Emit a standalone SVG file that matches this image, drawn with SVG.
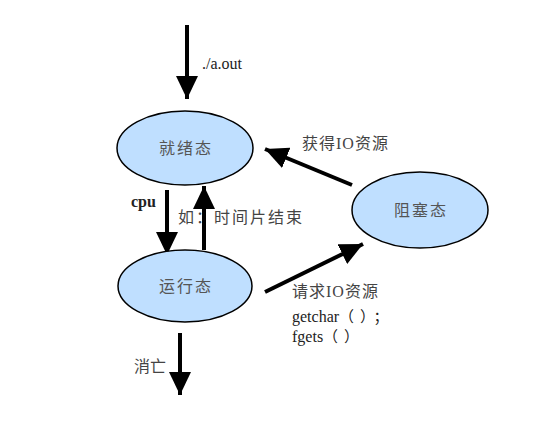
<svg xmlns="http://www.w3.org/2000/svg" width="536" height="426" viewBox="0 0 536 426">
<style>
.node ellipse{fill:#bfdfff;stroke:#000;stroke-width:1.5}
.nl{font-family:"Liberation Serif","Noto Sans CJK SC",serif;font-size:16px;fill:#555;text-anchor:middle;letter-spacing:2px}
.lbl{font-family:"Liberation Serif","Noto Sans CJK SC",serif;font-size:16px;fill:#444}
.lat{font-family:"Liberation Serif","Noto Sans CJK SC",serif;font-size:16px;fill:#222}
.cjk{font-family:"Noto Sans CJK SC",sans-serif;font-size:15px;letter-spacing:6px}
.conn line{stroke:#000;stroke-width:4}
</style>
<defs>
<marker id="ah" markerUnits="userSpaceOnUse" markerWidth="24" markerHeight="22" refX="23" refY="11" orient="auto">
<path d="M0,0 L23,11 L0,22 Z" fill="#000"/>
</marker>
</defs>
<rect width="536" height="426" fill="#fff"/>
<g id="connectors" class="conn">
<line x1="187" y1="25" x2="187" y2="99" marker-end="url(#ah)"/>
<line x1="167" y1="190" x2="167" y2="255" marker-end="url(#ah)"/>
<line x1="204" y1="250" x2="204" y2="186" marker-end="url(#ah)"/>
<line x1="180" y1="333" x2="180" y2="395" marker-end="url(#ah)"/>
<line x1="352" y1="185" x2="265" y2="149" marker-end="url(#ah)"/>
<line x1="265" y1="292" x2="363" y2="244" marker-end="url(#ah)"/>
</g>
<g id="ready" class="node"><ellipse cx="185" cy="148" rx="68" ry="37"/><text class="nl" x="186" y="154">就绪态</text></g>
<g id="running" class="node"><ellipse cx="185" cy="286" rx="67" ry="36"/><text class="nl" x="186" y="292">运行态</text></g>
<g id="blocked" class="node"><ellipse cx="420" cy="210" rx="68" ry="38"/><text class="nl" x="421" y="216">阻塞态</text></g>
<g id="labels">
<text class="lat" x="202" y="69" fill="#333">./a.out</text>
<text class="lat" x="131" y="207" font-weight="bold">cpu</text>
<text class="lbl" x="178" y="223" letter-spacing="2">如：时间片结束</text>
<text class="lbl" x="302" y="149" letter-spacing="1">获得IO资源</text>
<text class="lbl" x="292" y="297" letter-spacing="1">请求IO资源</text>
<text class="lat" x="292" y="322">getchar<tspan class="cjk">（）；</tspan></text>
<text class="lat" x="292" y="342">fgets<tspan class="cjk">（）</tspan></text>
<text class="lbl" x="134" y="372">消亡</text>
</g>
</svg>
